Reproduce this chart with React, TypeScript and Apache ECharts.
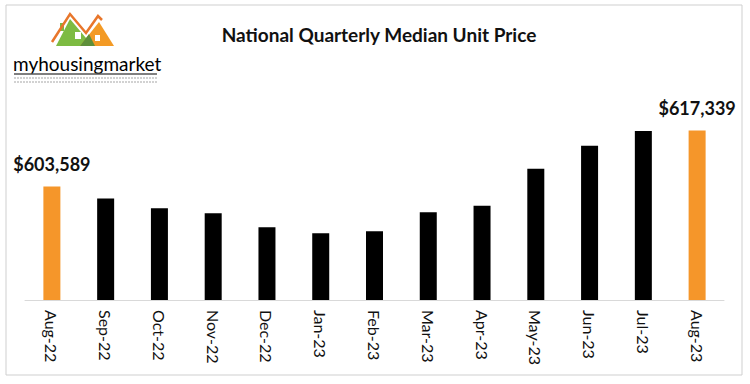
import React, { useEffect, useRef } from "react";
import * as echarts from "echarts";

const categories = ["Aug-22", "Sep-22", "Oct-22", "Nov-22", "Dec-22", "Jan-23", "Feb-23", "Mar-23", "Apr-23", "May-23", "Jun-23", "Jul-23", "Aug-23"];
const prices = [603589, 600670, 598310, 597090, 593650, 592180, 592670, 597330, 598880, 607960, 613600, 617200, 617339];
const highlighted = [true, false, false, false, false, false, false, false, false, false, false, false, true];
const titleText = "National Quarterly Median Unit Price";

const ORANGE = "#F5962A";
const BLACK = "#000000";

export default function App() {
  const ref = useRef<HTMLDivElement>(null);
  useEffect(() => {
    if (!ref.current) return;
    const chart = echarts.init(ref.current, null, { renderer: "svg" });
    const data = prices.map((v, i) => ({
      value: v,
      itemStyle: { color: highlighted[i] ? ORANGE : BLACK },
      label: highlighted[i]
        ? {
            show: true,
            position: "top",
            distance: 14,
            formatter: (p: any) => "$" + Number(p.value).toLocaleString("en-US"),
            fontFamily: "Lato",
            fontWeight: "bold",
            fontSize: 18,
            color: "#111",
          }
        : { show: false },
    }));
    chart.setOption({
      animation: false,
      backgroundColor: "#ffffff",
      title: {
        text: titleText,
        left: 374,
        top: 20,
        textAlign: "center",
        textStyle: { fontFamily: "Lato", fontWeight: "bold", fontSize: 19, color: "#111" },
      },
      grid: { left: 25, right: 26, top: 96, bottom: 84, containLabel: false },
      xAxis: {
        type: "category",
        data: categories,
        axisLine: { lineStyle: { color: "#d9d9d9", width: 1 } },
        axisTick: { show: false },
        axisLabel: { rotate: -90, fontFamily: "Lato", fontSize: 16, color: "#111", margin: 10 },
      },
      yAxis: { type: "value", min: 575800, max: 625800, show: false, splitLine: { show: false } },
      series: [{ type: "bar", data, barWidth: 17 }],
      graphic: [
        { type: "rect", shape: { x: 6, y: 5, width: 736, height: 370 }, style: { fill: "none", stroke: "#cfcfcf", lineWidth: 1 }, z: 10 },
        // logo houses
        { type: "polygon", shape: { points: [[56, 46], [70, 19], [86, 38], [86, 46]] }, style: { fill: "#7DBB42" } },
        { type: "rect", shape: { x: 60, y: 23, width: 4, height: 8 }, style: { fill: "#7DBB42" } },
        { type: "polygon", shape: { points: [[80, 46], [99, 22], [114, 46]] }, style: { fill: "#F39A25" } },
        { type: "polygon", shape: { points: [[80, 46], [89, 34], [95, 46]] }, style: { fill: "#5E8F3A" } },
        { type: "polyline", shape: { points: [[52, 42], [70, 14], [86, 33], [98, 16], [102, 20]] }, style: { stroke: "#E8762B", lineWidth: 2.5, fill: "none" } },
        { type: "rect", shape: { x: 75, y: 32, width: 6, height: 7 }, style: { fill: "#ffffff" } },
        { type: "rect", shape: { x: 95, y: 35, width: 5, height: 6 }, style: { fill: "#ffffff" } },
        {
          type: "text",
          x: 13,
          y: 54,
          style: {
            text: "{a|my}{b|housing}{a|market}",
            rich: {
              a: { fontFamily: "Lato", fontSize: 19, color: "#4a4a4a" },
              b: { fontFamily: "Lato", fontSize: 19, color: "#8DC63F" },
            },
          },
        },
        { type: "line", shape: { x1: 14, y1: 74, x2: 157, y2: 74 }, style: { stroke: "#555", lineWidth: 1.5 } },
        { type: "line", shape: { x1: 14, y1: 78, x2: 157, y2: 78 }, style: { stroke: "#c4c4c4", lineWidth: 1.5, lineDash: [2, 1] } },
        { type: "line", shape: { x1: 14, y1: 82, x2: 157, y2: 82 }, style: { stroke: "#c4c4c4", lineWidth: 1.5, lineDash: [2, 1] } },
      ],
    });
    return () => chart.dispose();
  }, []);
  return <div ref={ref} style={{ position: "fixed", left: 0, top: 0, width: 750, height: 384 }} />;
}
